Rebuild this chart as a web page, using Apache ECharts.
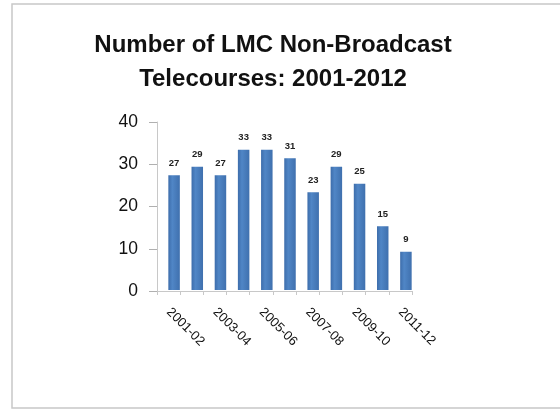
<!DOCTYPE html>
<html><head><meta charset="utf-8">
<script src="https://cdn.jsdelivr.net/npm/echarts@6/dist/echarts.min.js"></script>
<style>html,body{margin:0;padding:0;background:#fff}#c{width:560px;height:411px}</style>
</head><body><div id="c"></div>
<script>
const categories = ['2001-02','2002-03','2003-04','2004-05','2005-06','2006-07','2007-08','2008-09','2009-10','2010-11','2011-12'];
const values = [27,29,27,33,33,31,23,29,25,15,9];
const yTicks = [0,10,20,30,40];
const titleLines = ['Number of LMC Non-Broadcast','Telecourses: 2001-2012'];

const yMin = yTicks[0], yMax = yTicks[yTicks.length-1];
const chart = echarts.init(document.getElementById('c'), null, {renderer:'canvas'});
chart.setOption({
  animation:false,
  backgroundColor:'#fff',
  graphic:[{type:'rect',shape:{x:12,y:4,width:560,height:404},style:{fill:'none',stroke:'#c8c8c8',lineWidth:1.5}}],
  title:{text:titleLines.join('\n'),left:268,top:23,textAlign:'center',
    textStyle:{fontFamily:'Liberation Sans',fontWeight:'bold',fontSize:24,lineHeight:34,color:'#111'}},
  grid:[
    {left:157,right:148,top:122,bottom:120},
    {left:162.5,right:142.5,top:120,bottom:121}
  ],
  xAxis:[
    {gridIndex:0,type:'category',data:categories,
      axisLine:{lineStyle:{color:'#c8c8c8'}},
      axisTick:{show:true,interval:0,length:4,lineStyle:{color:'#c8c8c8'}},
      axisLabel:{interval:1,rotate:-45,fontFamily:'Liberation Sans',fontSize:13,color:'#111',margin:19}},
    {gridIndex:1,type:'category',data:categories,show:false}
  ],
  yAxis:[
    {gridIndex:0,type:'value',min:yMin,max:yMax,interval:10,
      splitLine:{show:false},
      axisLine:{show:true,lineStyle:{color:'#c8c8c8'}},
      axisTick:{show:true,length:8,lineStyle:{color:'#b0b0b0'}},
      axisLabel:{fontFamily:'Liberation Sans',fontSize:17.5,color:'#111',margin:19}},
    {gridIndex:1,type:'value',min:yMin,max:yMax,show:false,splitLine:{show:false}}
  ],
  series:[{type:'bar',xAxisIndex:1,yAxisIndex:1,data:values,barWidth:11.5,
    itemStyle:{color:new echarts.graphic.LinearGradient(0,0,1,0,[
      {offset:0,color:'#3d6dab'},{offset:0.35,color:'#5086c6'},{offset:1,color:'#3f70ae'}])},
    label:{show:true,position:'top',distance:7,fontFamily:'Liberation Sans',fontSize:9.5,fontWeight:'bold',color:'#222'}}]
});
</script></body></html>
